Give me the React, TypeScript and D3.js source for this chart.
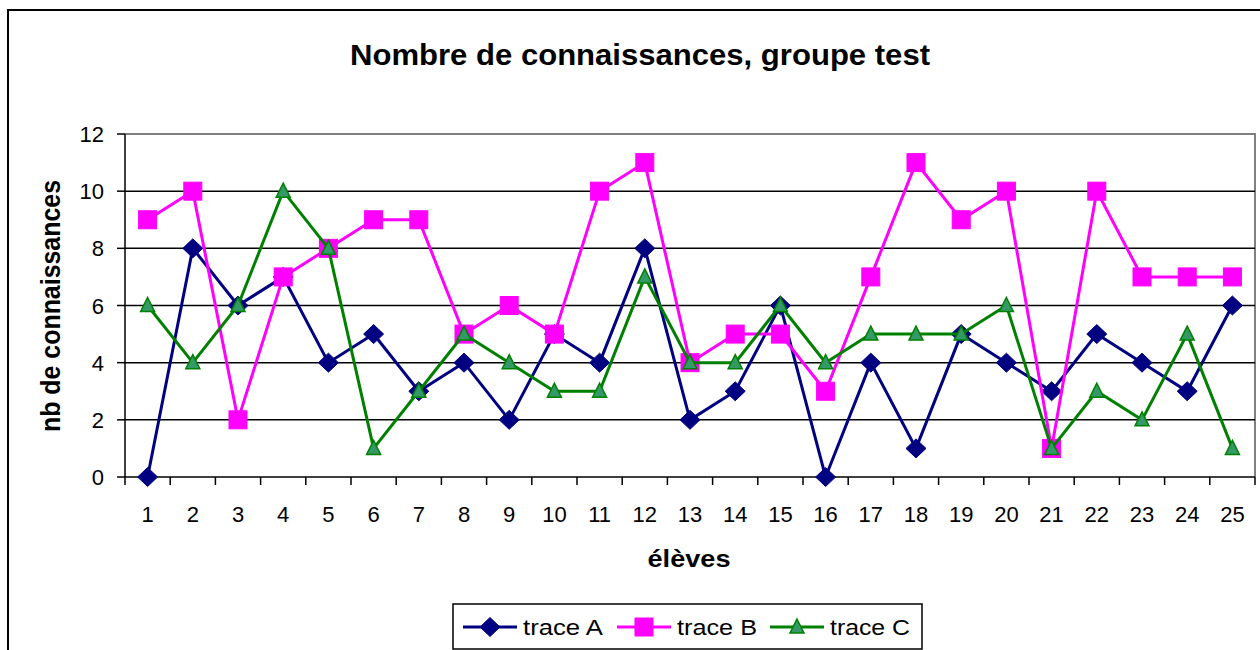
import React from 'react';
import * as d3 from 'd3';

const eleves = d3.range(1, 26).map(String);
const traceA = [0, 8, 6, 7, 4, 5, 3, 4, 2, 5, 4, 8, 2, 3, 6, 0, 4, 1, 5, 4, 3, 5, 4, 3, 6];
const traceB = [9, 10, 2, 7, 8, 9, 9, 5, 6, 5, 10, 11, 4, 5, 5, 3, 7, 11, 9, 10, 1, 10, 7, 7, 7];
const traceC = [6, 4, 6, 10, 8, 1, 3, 5, 4, 3, 3, 7, 4, 4, 6, 4, 5, 5, 5, 6, 1, 3, 2, 5, 1];
const yTicks = [0, 2, 4, 6, 8, 10, 12];

const seriesList = [
  { name: 'trace A', values: traceA, color: '#000080', fill: '#000080', marker: 'diamond' },
  { name: 'trace B', values: traceB, color: '#FF00FF', fill: '#FF00FF', marker: 'square' },
  { name: 'trace C', values: traceC, color: '#008000', fill: '#339966', marker: 'triangle' },
];

const font = '"Liberation Sans", Arial, sans-serif';

function Marker({ type, x, y, color, fill }: { type: string; x: number; y: number; color: string; fill: string }) {
  if (type === 'diamond') {
    const w = 10;
    const h = 9.5;
    return <path d={`M${x},${y - h}L${x + w},${y}L${x},${y + h}L${x - w},${y}Z`} fill={fill} stroke={color} strokeWidth={1} />;
  }
  if (type === 'square') {
    const s = 9;
    return <rect x={x - s} y={y - s} width={2 * s} height={2 * s} fill={fill} stroke={color} strokeWidth={1} />;
  }
  const s = 7;
  return <path d={`M${x},${y - s - 1}L${x + s},${y + s - 1}L${x - s},${y + s - 1}Z`} fill={fill} stroke={color} strokeWidth={1.5} />;
}

export default function App() {
  const left = 125;
  const right = 1255;
  const top = 134;
  const bottom = 477;

  const x = d3.scaleBand().domain(eleves).range([left, right]);
  const y = d3.scaleLinear().domain([0, 12]).range([bottom, top]);
  const cx = (i: number) => (x(eleves[i]) || 0) + x.bandwidth() / 2;

  const line = d3
    .line<number>()
    .x((_, i) => cx(i))
    .y((d) => y(d));

  const legendX = [463, 617, 770];

  return (
    <svg width={1260} height={650} style={{ position: 'absolute', left: 0, top: 0, background: '#fff' }} fontFamily={font}>
      <rect x={8} y={10} width={1270} height={660} fill="#fff" stroke="#000" strokeWidth={2} />
      <text x={640} y={65} textAnchor="middle" fontSize={29} fontWeight="bold" textLength={580} lengthAdjust="spacingAndGlyphs">
        Nombre de connaissances, groupe test
      </text>

      {/* plot frame */}
      <path d={`M${left},${top}H${right}V${bottom}`} fill="none" stroke="#808080" strokeWidth={2} />
      {yTicks.filter((t) => t > 0 && t < 12).map((t) => (
        <line key={t} x1={left} x2={right} y1={y(t)} y2={y(t)} stroke="#000" strokeWidth={1.5} />
      ))}
      <line x1={left} x2={left} y1={top} y2={bottom} stroke="#000" strokeWidth={1.5} />
      <line x1={left} x2={right} y1={bottom} y2={bottom} stroke="#000" strokeWidth={1.5} />

      {yTicks.map((t) => (
        <g key={t}>
          <line x1={left - 8} x2={left} y1={y(t)} y2={y(t)} stroke="#000" strokeWidth={1.5} />
          <text x={104} y={y(t) + 8} textAnchor="end" fontSize={22}>
            {t}
          </text>
        </g>
      ))}
      {eleves.map((e, i) => (
        <g key={e}>
          <line x1={x(e) || 0} x2={x(e) || 0} y1={bottom} y2={bottom + 8} stroke="#000" strokeWidth={1.5} />
          <text x={cx(i)} y={522} textAnchor="middle" fontSize={22}>
            {e}
          </text>
        </g>
      ))}
      <line x1={right} x2={right} y1={bottom} y2={bottom + 8} stroke="#000" strokeWidth={1.5} />

      <text x={689} y={567} textAnchor="middle" fontSize={23} fontWeight="bold" textLength={83} lengthAdjust="spacingAndGlyphs">
        élèves
      </text>
      <text
        transform="translate(60,306) rotate(-90)"
        textAnchor="middle"
        fontSize={27}
        fontWeight="bold"
        textLength={252}
        lengthAdjust="spacingAndGlyphs"
      >
        nb de connaissances
      </text>

      {seriesList.map((s) => (
        <g key={s.name}>
          <path d={line(s.values) || ''} fill="none" stroke={s.color} strokeWidth={3} />
          {s.values.map((v, i) => (
            <Marker key={i} type={s.marker} x={cx(i)} y={y(v)} color={s.color} fill={s.fill} />
          ))}
        </g>
      ))}

      {/* legend */}
      <rect x={453} y={604} width={469} height={45} fill="#fff" stroke="#000" strokeWidth={1.5} />
      {seriesList.map((s, i) => (
        <g key={s.name}>
          <line x1={legendX[i]} x2={legendX[i] + 54} y1={627} y2={627} stroke={s.color} strokeWidth={3} />
          <Marker type={s.marker} x={legendX[i] + 27} y={627} color={s.color} fill={s.fill} />
          <text x={legendX[i] + 60} y={635} fontSize={22} textLength={80} lengthAdjust="spacingAndGlyphs">
            {s.name}
          </text>
        </g>
      ))}
    </svg>
  );
}
